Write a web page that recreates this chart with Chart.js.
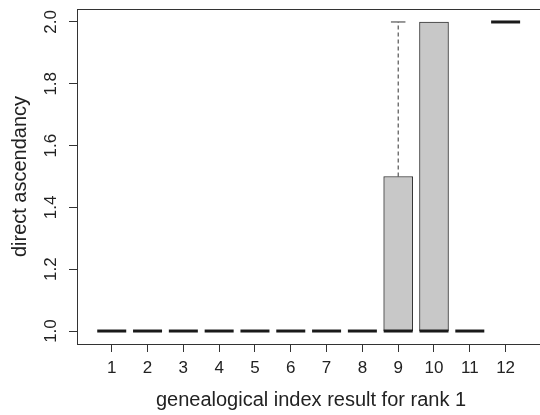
<!DOCTYPE html>
<html>
<head>
<meta charset="utf-8">
<script src="https://cdn.jsdelivr.net/npm/chart.js@4.4.1/dist/chart.umd.min.js"></script>
<style>
  html, body { margin: 0; padding: 0; background: #fff; overflow: hidden; }
  #wrap { width: 560px; height: 415px; }
</style>
</head>
<body>
<div id="wrap"><canvas id="boxChart" width="560" height="415"></canvas></div>
<script>
// values (one box per category)
const categories = [1, 2, 3, 4, 5, 6, 7, 8, 9, 10, 11, 12];
const lowerWhisker = [1, 1, 1, 1, 1, 1, 1, 1, 1, 1, 1, 2];
const firstQuartile = [1, 1, 1, 1, 1, 1, 1, 1, 1, 1, 1, 2];
const medians = [1, 1, 1, 1, 1, 1, 1, 1, 1, 1, 1, 2];
const thirdQuartile = [1, 1, 1, 1, 1, 1, 1, 1, 1.5, 2, 1, 2];
const upperWhisker = [1, 1, 1, 1, 1, 1, 1, 1, 2, 2, 1, 2];
const yTicks = [1.0, 1.2, 1.4, 1.6, 1.8, 2.0];

const family = 'Liberation Sans, Arial, Helvetica, sans-serif';
const tickFont = { family: family, size: 17 };
const titleFont = { family: family, size: 20 };
const ink = '#333';
const boxWidth = 29;

// medians, whiskers and the frame round the plot
const boxPlotExtras = {
    id: 'boxPlotExtras',
    afterDatasetsDraw(chart) {
        const { ctx, chartArea, scales } = chart;
        const xs = scales.x, ys = scales.y;
        ctx.save();
        categories.forEach((c, i) => {
            const cx = xs.getPixelForValue(c);
            // upper whisker
            if (upperWhisker[i] > thirdQuartile[i]) {
                const yTop = ys.getPixelForValue(upperWhisker[i]);
                const yBox = ys.getPixelForValue(thirdQuartile[i]);
                ctx.strokeStyle = ink;
                ctx.lineWidth = 1;
                ctx.setLineDash([4, 3]);
                ctx.beginPath();
                ctx.moveTo(cx, yBox);
                ctx.lineTo(cx, yTop);
                ctx.stroke();
                ctx.setLineDash([]);
                ctx.beginPath();
                ctx.moveTo(cx - boxWidth / 4, yTop);
                ctx.lineTo(cx + boxWidth / 4, yTop);
                ctx.stroke();
            }
            // lower whisker
            if (lowerWhisker[i] < firstQuartile[i]) {
                const yBot = ys.getPixelForValue(lowerWhisker[i]);
                const yBox = ys.getPixelForValue(firstQuartile[i]);
                ctx.strokeStyle = ink;
                ctx.lineWidth = 1;
                ctx.setLineDash([4, 3]);
                ctx.beginPath();
                ctx.moveTo(cx, yBox);
                ctx.lineTo(cx, yBot);
                ctx.stroke();
                ctx.setLineDash([]);
                ctx.beginPath();
                ctx.moveTo(cx - boxWidth / 4, yBot);
                ctx.lineTo(cx + boxWidth / 4, yBot);
                ctx.stroke();
            }
            // median
            const ym = ys.getPixelForValue(medians[i]);
            ctx.strokeStyle = '#1a1a1a';
            ctx.lineWidth = 3;
            ctx.beginPath();
            ctx.moveTo(cx - boxWidth / 2, ym);
            ctx.lineTo(cx + boxWidth / 2, ym);
            ctx.stroke();
        });
        ctx.strokeStyle = ink;
        ctx.lineWidth = 1;
        ctx.strokeRect(chartArea.left + 0.5, chartArea.top + 0.5,
            chartArea.right - chartArea.left, chartArea.bottom - chartArea.top);
        ctx.restore();
    }
};

const ctx = document.getElementById('boxChart').getContext('2d');
const boxChart = new Chart(ctx, {
    type: 'bar',
    data: {
        datasets: [{
            data: categories.map((c, i) => ({ x: c, y: [firstQuartile[i], thirdQuartile[i]] })),
            backgroundColor: '#c8c8c8',
            borderColor: ink,
            borderWidth: 1,
            borderSkipped: false,
            barThickness: boxWidth
        }]
    },
    options: {
        responsive: false,
        animation: false,
        layout: { padding: { top: 9, right: 15, left: 0, bottom: 0 } },
        plugins: { legend: { display: false }, tooltip: { enabled: false } },
        scales: {
            x: {
                type: 'linear',
                min: 0.03,
                max: 13.1,
                offset: false,
                afterBuildTicks: (axis) => { axis.ticks = categories.map(v => ({ value: v })); },
                afterFit: (axis) => { axis.height = 71; axis.paddingLeft = 0; axis.paddingRight = 0; },
                grid: { offset: false, drawOnChartArea: false, drawTicks: true, tickLength: 8, color: ink },
                border: { display: false },
                ticks: { color: '#222', font: tickFont, padding: 6, maxRotation: 0, autoSkip: false,
                         callback: (v) => String(v) },
                title: { display: true, text: 'genealogical index result for rank 1', color: '#222', font: titleFont,
                         padding: { top: 4, bottom: 3 } }
            },
            y: {
                min: 0.958,
                max: 2.042,
                afterBuildTicks: (axis) => { axis.ticks = yTicks.map(v => ({ value: v })); },
                afterFit: (axis) => { axis.width = 77; axis.paddingTop = 0; axis.paddingBottom = 0; },
                grid: { drawOnChartArea: false, drawTicks: true, tickLength: 8, color: ink },
                border: { display: false },
                ticks: { color: '#222', font: tickFont, padding: 6, minRotation: 90, maxRotation: 90,
                         crossAlign: 'center', callback: (v) => v.toFixed(1) },
                title: { display: true, text: 'direct ascendancy', color: '#222', font: titleFont,
                         padding: { top: 8, bottom: 4 } }
            }
        }
    },
    plugins: [boxPlotExtras]
});
</script>
</body>
</html>
